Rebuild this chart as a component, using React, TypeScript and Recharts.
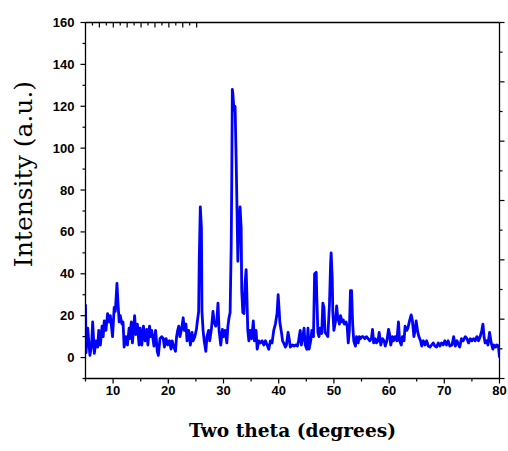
import { LineChart, Line, XAxis, YAxis } from 'recharts'

// two theta (degrees) and intensity (a.u.)
const twoTheta = [
  5.0, 5.1, 5.4, 5.8, 6.1, 6.3, 6.6, 6.9, 7.2, 7.4, 7.7, 8.0, 8.2, 8.4, 8.7, 9.0, 9.3, 9.5, 9.9,
  10.2, 10.4, 10.7, 10.9, 11.1, 11.3, 11.6, 11.8, 12.0, 12.3, 12.6, 12.9, 13.0, 13.3, 13.5, 13.9,
  14.1, 14.4, 14.7, 14.9, 15.2, 15.5, 15.8, 16.1, 16.3, 16.6, 16.8, 17.0, 17.4, 17.7, 18.0, 18.2,
  18.5, 18.8, 19.1, 19.3, 19.6, 19.9, 20.2, 20.5, 20.7, 21.0, 21.3, 21.5, 21.7, 21.9, 22.1, 22.4,
  22.7, 22.9, 23.2, 23.4, 23.7, 24.0, 24.3, 24.5, 24.8, 25.1, 25.2, 25.5, 25.6, 25.8, 26.0, 26.1,
  26.3, 26.5, 26.8, 27.0, 27.3, 27.5, 27.8, 28.1, 28.3, 28.6, 28.8, 29.0, 29.2, 29.5, 29.8, 30.0,
  30.3, 30.6, 30.8, 31.0, 31.2, 31.4, 31.5, 31.6, 31.7, 31.9, 32.1, 32.3, 32.6, 32.8, 33.0, 33.2,
  33.3, 33.5, 33.7, 33.9, 34.1, 34.2, 34.4, 34.6, 34.8, 35.1, 35.4, 35.6, 35.9, 36.1, 36.4, 36.7,
  37.0, 37.3, 37.6, 37.9, 38.2, 38.5, 38.8, 39.1, 39.4, 39.7, 39.9, 40.1, 40.2, 40.5, 40.7, 40.9,
  41.2, 41.4, 41.7, 41.9, 42.1, 42.5, 42.8, 43.1, 43.4, 43.6, 43.9, 44.1, 44.3, 44.6, 44.8, 45.1,
  45.3, 45.5, 45.8, 46.0, 46.3, 46.5, 46.8, 46.9, 47.1, 47.3, 47.5, 47.8, 48.0, 48.2, 48.4, 48.7,
  48.9, 49.2, 49.4, 49.5, 49.7, 49.8, 50.0, 50.3, 50.5, 50.7, 51.0, 51.2, 51.5, 51.7, 51.9, 52.2,
  52.4, 52.6, 52.8, 53.0, 53.2, 53.4, 53.6, 53.9, 54.1, 54.4, 54.6, 54.8, 55.1, 55.3, 55.6, 55.9,
  56.2, 56.5, 56.8, 57.0, 57.2, 57.5, 57.7, 58.0, 58.2, 58.5, 58.8, 59.1, 59.3, 59.6, 59.9, 60.1,
  60.3, 60.6, 60.8, 61.1, 61.4, 61.7, 61.9, 62.2, 62.4, 62.7, 62.9, 63.2, 63.4, 63.7, 64.0, 64.2,
  64.5, 64.7, 64.9, 65.2, 65.4, 65.7, 65.9, 66.2, 66.5, 66.8, 67.1, 67.4, 67.7, 68.0, 68.3, 68.6,
  68.9, 69.2, 69.5, 69.8, 70.1, 70.4, 70.7, 71.0, 71.4, 71.7, 72.0, 72.3, 72.6, 72.8, 73.1, 73.4,
  73.8, 74.1, 74.4, 74.7, 75.0, 75.3, 75.6, 75.9, 76.2, 76.5, 76.8, 77.0, 77.2, 77.4, 77.7, 77.9,
  78.2, 78.5, 78.8, 79.0, 79.3, 79.5, 79.8, 80.0,
]

const intensity = [
  25.5, 2.4, 14, 1, 6, 17, 2, 8, 5, 13, 6, 15, 10, 17.5, 13, 21, 17, 20, 10,
  24, 22, 35.4, 25.5, 17, 20, 16, 17, 5, 10, 6, 14, 9, 17, 7, 20,
  11, 16, 6, 14, 6, 15, 8, 13.5, 6, 15, 10, 13, 5.5, 13, 3, 1,
  9, 10, 9, 5, 9, 6, 8, 4, 8, 5, 3, 10, 13, 15, 10, 13.5,
  19, 13, 16, 8, 13, 6, 12, 8, 10, 13.5, 16, 22, 46, 72, 62, 22,
  13, 8, 3, 10, 13, 8, 13.5, 22, 17, 15, 17.5, 26, 13, 6, 13.5, 10,
  13, 7, 15, 19, 21.5, 54, 86, 128, 126, 118, 120, 94, 46, 62, 72, 62,
  32, 21.5, 21, 35, 42, 33.5, 13, 8, 13, 9, 17.5, 8, 13, 4, 8, 7,
  8, 6, 8, 6, 4, 8, 7, 13, 16, 21, 30, 22, 17, 12, 8, 7,
  5, 6, 12, 9, 5, 6, 5.5, 6, 5.5, 8, 13, 6, 9, 14, 6, 4,
  14, 4, 8, 13, 10, 40, 40.7, 29, 12, 10, 14, 11.5, 26, 24, 12, 11,
  10, 25.5, 44.7, 50, 38, 22, 13, 17.5, 24.7, 19, 16, 20, 17, 18, 16, 17,
  15, 7, 13, 32, 32, 16, 8, 5.5, 10, 7, 10, 9, 10, 10, 9, 10,
  9, 8, 9, 13.5, 7, 9, 7, 8, 12, 6, 9, 8, 5.5, 8, 13.5, 11,
  6, 10, 8, 10, 8, 17, 8, 6, 10, 8, 15, 13, 14, 17.5, 20.4, 18,
  10, 13, 17.5, 12, 10, 8, 5.5, 8, 6, 8, 5.5, 5, 6, 7, 5.5, 5,
  7, 5.5, 7, 6, 8, 6, 8, 5.5, 6, 10, 5.5, 8, 6, 5, 9, 8,
  10, 9, 7, 9, 8, 9, 8, 10, 8, 10, 13, 16, 10, 7, 8, 6,
  12, 7, 4, 6, 5, 6, 5.5, 0,
]

const xTicks = [5, 10, 15, 20, 25, 30, 35, 40, 45, 50, 55, 60, 65, 70, 75, 80]
const yTicks = [-10, 0, 10, 20, 30, 40, 50, 60, 70, 80, 90, 100, 110, 120, 130, 140, 150, 160]
const rightTicks = [0, 1, 2, 3, 4, 5, 6, 7, 8, 9, 10, 11, 12]

const data = twoTheta.map((t, i) => ({ t, v: intensity[i] }))

const tickFont = {
  fontFamily: '"Liberation Sans", Arial, sans-serif',
  fontWeight: 700,
  fontSize: 13,
  fill: '#000',
}
const axisLine = { stroke: '#000', strokeWidth: 1.3 }

const BottomTick = (props: any) => {
  const { x, y, payload } = props
  const major = payload.value % 10 === 0
  return (
    <g>
      <line x1={x} y1={y} x2={x} y2={y + (major ? 5 : 3)} stroke="#000" strokeWidth={1.2} />
      {major && (
        <text x={x} y={y + 16} textAnchor="middle" {...tickFont}>
          {payload.value}
        </text>
      )}
    </g>
  )
}

const TopTick = (props: any) => {
  const { x, y, payload } = props
  const major = payload.value % 10 === 0
  return <line x1={x} y1={y} x2={x} y2={y + (major ? 5 : 3)} stroke="#000" strokeWidth={1.2} />
}

const LeftTick = (props: any) => {
  const { x, y, payload } = props
  const major = payload.value % 20 === 0
  return (
    <g>
      <line x1={x} y1={y} x2={x - (major ? 5 : 3)} y2={y} stroke="#000" strokeWidth={1.2} />
      {major && (
        <text x={x - 11} y={y + 4.5} textAnchor="end" {...tickFont}>
          {payload.value}
        </text>
      )}
    </g>
  )
}

const RightTick = (props: any) => {
  const { x, y, payload } = props
  const major = payload.value % 2 === 0
  return <line x1={x} y1={y} x2={x + (major ? 5 : 3)} y2={y} stroke="#000" strokeWidth={1.2} />
}

const serif = '"DejaVu Serif", serif'

export default function App() {
  return (
    <div style={{ position: 'absolute', left: 0, top: 0, width: 508, height: 451 }}>
      <LineChart
        width={508}
        height={451}
        data={data}
        margin={{ top: 21.5, right: 7.5, bottom: 71.5, left: 84.5 }}
      >
        <XAxis
          xAxisId="b"
          dataKey="t"
          type="number"
          domain={[5, 80]}
          ticks={xTicks}
          interval={0}
          height={1}
          tickSize={0}
          tickMargin={0}
          tickLine={false}
          axisLine={axisLine}
          tick={<BottomTick />}
          allowDataOverflow
        />
        <XAxis
          xAxisId="top"
          orientation="top"
          type="number"
          domain={[5, 80]}
          ticks={xTicks}
          interval={0}
          height={1}
          tickSize={0}
          tickMargin={0}
          tickLine={false}
          axisLine={axisLine}
          tick={<TopTick />}
          allowDataOverflow
        />
        <YAxis
          yAxisId="l"
          type="number"
          domain={[-10, 160]}
          ticks={yTicks}
          interval={0}
          width={1}
          tickSize={0}
          tickMargin={0}
          tickLine={false}
          axisLine={axisLine}
          tick={<LeftTick />}
          allowDataOverflow
        />
        <YAxis
          yAxisId="r"
          orientation="right"
          type="number"
          domain={[0, 12]}
          ticks={rightTicks}
          interval={0}
          width={1}
          tickSize={0}
          tickMargin={0}
          tickLine={false}
          axisLine={axisLine}
          tick={<RightTick />}
          allowDataOverflow
        />
        <Line
          xAxisId="b"
          yAxisId="l"
          dataKey="v"
          type="linear"
          stroke="#0000FF"
          strokeWidth={2.8}
          strokeLinejoin="round"
          dot={false}
          isAnimationActive={false}
        />
      </LineChart>
      <svg
        width={508}
        height={451}
        style={{ position: 'absolute', left: 0, top: 0, pointerEvents: 'none' }}
      >
        <text x={292.5} y={437} textAnchor="middle" fontFamily={serif} fontWeight={700} fontSize={18.6}>
          Two theta (degrees)
        </text>
        <text
          transform="translate(32,174) rotate(-90)"
          textAnchor="middle"
          fontFamily={serif}
          fontSize={25}
        >
          Intensity (a.u.)
        </text>
      </svg>
    </div>
  )
}
